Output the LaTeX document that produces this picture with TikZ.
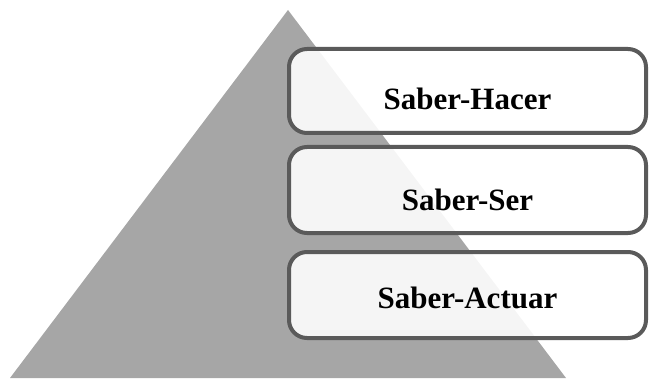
\documentclass[tikz,border=0pt]{standalone}
\usepackage{fontspec}
\setmainfont{Liberation Serif}
\definecolor{piramide}{HTML}{A6A6A6}
\definecolor{borde}{HTML}{5A5A5A}
\tikzset{
  nivel/.style={draw=borde, line width=4pt, rounded corners=18pt, fill=white,
    fill opacity=0.89, text opacity=1, minimum width=357pt, inner sep=0pt,
    font=\fontsize{31}{31}\selectfont\bfseries, text depth=0pt}
}
\begin{document}
\begin{tikzpicture}[x=1pt,y=1pt]
            \useasboundingbox (0,0) rectangle (650,378);
            \fill[piramide] (10,0)--(288,368)--(566,0)--cycle;
            \node[nivel, minimum height=84pt, text height=38pt] (hacer) at (467.5,287) {Saber-Hacer};
            \node[nivel, minimum height=86pt, text height=40pt] (ser) at (467.5,188) {Saber-Ser};
            \node[nivel, minimum height=86pt, text height=26pt] (actuar) at (467.5,83) {Saber-Actuar};
        \end{tikzpicture}
\end{document}
